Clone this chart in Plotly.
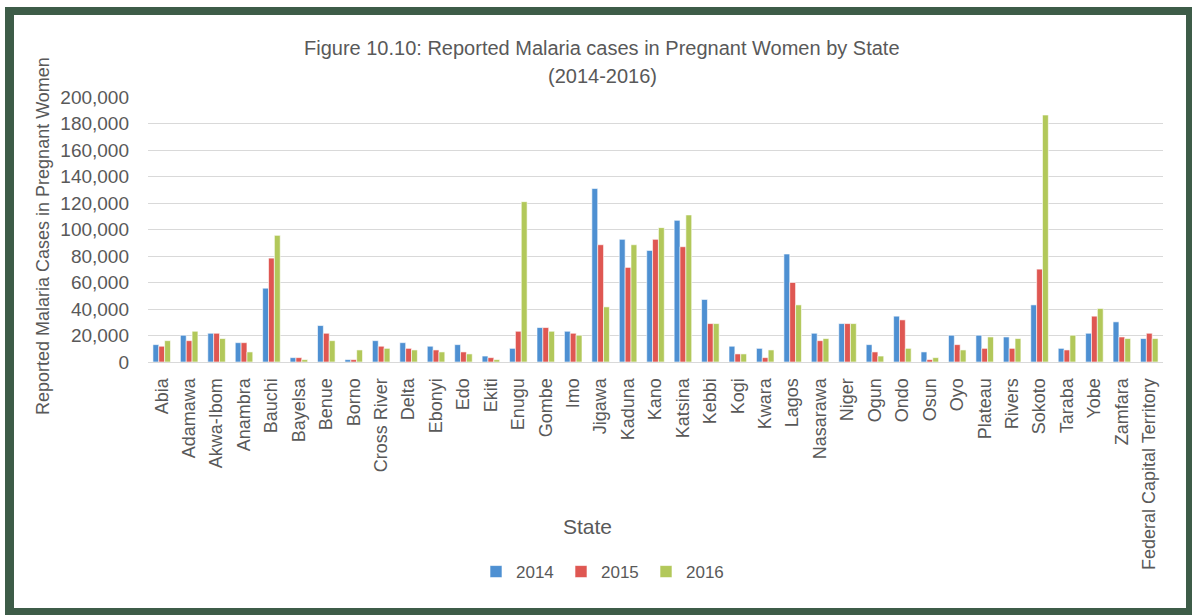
import plotly.graph_objects as go

states = ["Abia", "Adamawa", "Akwa-Ibom", "Anambra", "Bauchi", "Bayelsa", "Benue", "Borno",
          "Cross River", "Delta", "Ebonyi", "Edo", "Ekiti", "Enugu", "Gombe", "Imo", "Jigawa",
          "Kaduna", "Kano", "Katsina", "Kebbi", "Kogi", "Kwara", "Lagos", "Nasarawa", "Niger",
          "Ogun", "Ondo", "Osun", "Oyo", "Plateau", "Rivers", "Sokoto", "Taraba", "Yobe",
          "Zamfara", "Federal Capital Territory"]

cases_2014 = [13100, 20200, 21700, 14600, 55700, 3300, 27500, 1800, 16100, 14600, 11900, 13100,
              4500, 10300, 26000, 23200, 130900, 92600, 84200, 106900, 47200, 11900, 10300,
              81500, 21700, 29000, 13100, 34600, 7600, 20200, 20200, 18900, 43100, 10300,
              21700, 30300, 17700]
cases_2015 = [11900, 16100, 21700, 14600, 78400, 3300, 21700, 1800, 11900, 10300, 9100, 7600,
              3300, 23200, 26000, 21700, 88500, 71400, 92600, 87000, 29000, 6100, 3300,
              60000, 16100, 29000, 7600, 31800, 1800, 13100, 10300, 10300, 70100, 9100,
              34600, 18900, 21700]
cases_2016 = [16100, 23200, 17700, 7600, 95600, 1800, 16100, 9100, 10300, 9100, 7600, 6100,
              1800, 121000, 23200, 20200, 41600, 88500, 101400, 111000, 29000, 6100, 9100,
              43100, 17700, 29000, 4500, 10300, 3300, 9100, 18900, 17700, 186400, 20200,
              40400, 17700, 17700]

years = ["2014", "2015", "2016"]
colors = ["#4e90d2", "#df5752", "#b2c85a"]
series = [cases_2014, cases_2015, cases_2016]
y_ticks = list(range(0, 200001, 20000))

W, H = 1192, 615
L, R, T, B = 148, 1163, 97, 362


def xp(px):
    return (px - L) / (R - L)


def yp(py):
    return (B - py) / (B - T)


TXT = "#595959"
FONT = "Liberation Sans"

fig = go.Figure()
for name, vals, col in zip(years, series, colors):
    fig.add_trace(go.Bar(x=states, y=vals, name=name,
                         marker=dict(color=col, line=dict(color="white", width=0.6))))

fig.update_layout(
    width=W, height=H,
    margin=dict(l=L, r=W - R, t=T, b=H - B, autoexpand=False),
    paper_bgcolor="white", plot_bgcolor="white",
    barmode="group", bargap=0.36, bargroupgap=0.0,
    font=dict(family=FONT, color=TXT, size=15),
    showlegend=True,
    legend=dict(orientation="h", x=xp(476), y=yp(572), xanchor="left", yanchor="middle",
                font=dict(size=17, color=TXT), itemwidth=30, traceorder="normal",
                entrywidth=40, entrywidthmode="pixels",
                bgcolor="rgba(0,0,0,0)"),
    xaxis=dict(tickangle=-90, tickfont=dict(size=18, color=TXT), showgrid=False,
               showline=True, linecolor="#d9d9d9", linewidth=1, ticks="",
               ticklabelstandoff=8),
    yaxis=dict(range=[0, 200000], tickvals=y_ticks, tickformat=",d",
               tickfont=dict(size=19, color=TXT), showgrid=True, gridcolor="#d9d9d9",
               gridwidth=1, zeroline=False, showline=False, ticks="",
               ticklabelstandoff=18),
)

shapes = [
    dict(type="rect", xref="paper", yref="paper", x0=xp(5), x1=xp(1192), y0=yp(7), y1=yp(615),
         fillcolor="#3d5c48", line=dict(width=0), layer="below"),
    dict(type="rect", xref="paper", yref="paper", x0=xp(14), x1=xp(1186), y0=yp(15), y1=yp(608),
         fillcolor="white", line=dict(width=0), layer="below"),
]
fig.update_layout(shapes=shapes)

annotations = [
    dict(text="Figure 10.10: Reported Malaria cases in Pregnant Women by State",
         x=xp(602), y=yp(48), font=dict(size=20, color=TXT)),
    dict(text="(2014-2016)", x=xp(602), y=yp(76), font=dict(size=20, color=TXT)),
    dict(text="State", x=xp(587), y=yp(526), font=dict(size=21, color=TXT)),
    dict(text="Reported Malaria Cases in Pregnant Women", x=xp(43), y=yp(236), textangle=-90,
         font=dict(size=18, color=TXT)),
]
for a in annotations:
    a.update(xref="paper", yref="paper", showarrow=False, xanchor="center", yanchor="middle")
fig.update_layout(annotations=annotations)

fig.write_html("out.html",
               config={"displayModeBar": False},
               post_script="document.body.style.margin='0';document.body.style.padding='0';"
                           "document.body.style.overflow='hidden';")
